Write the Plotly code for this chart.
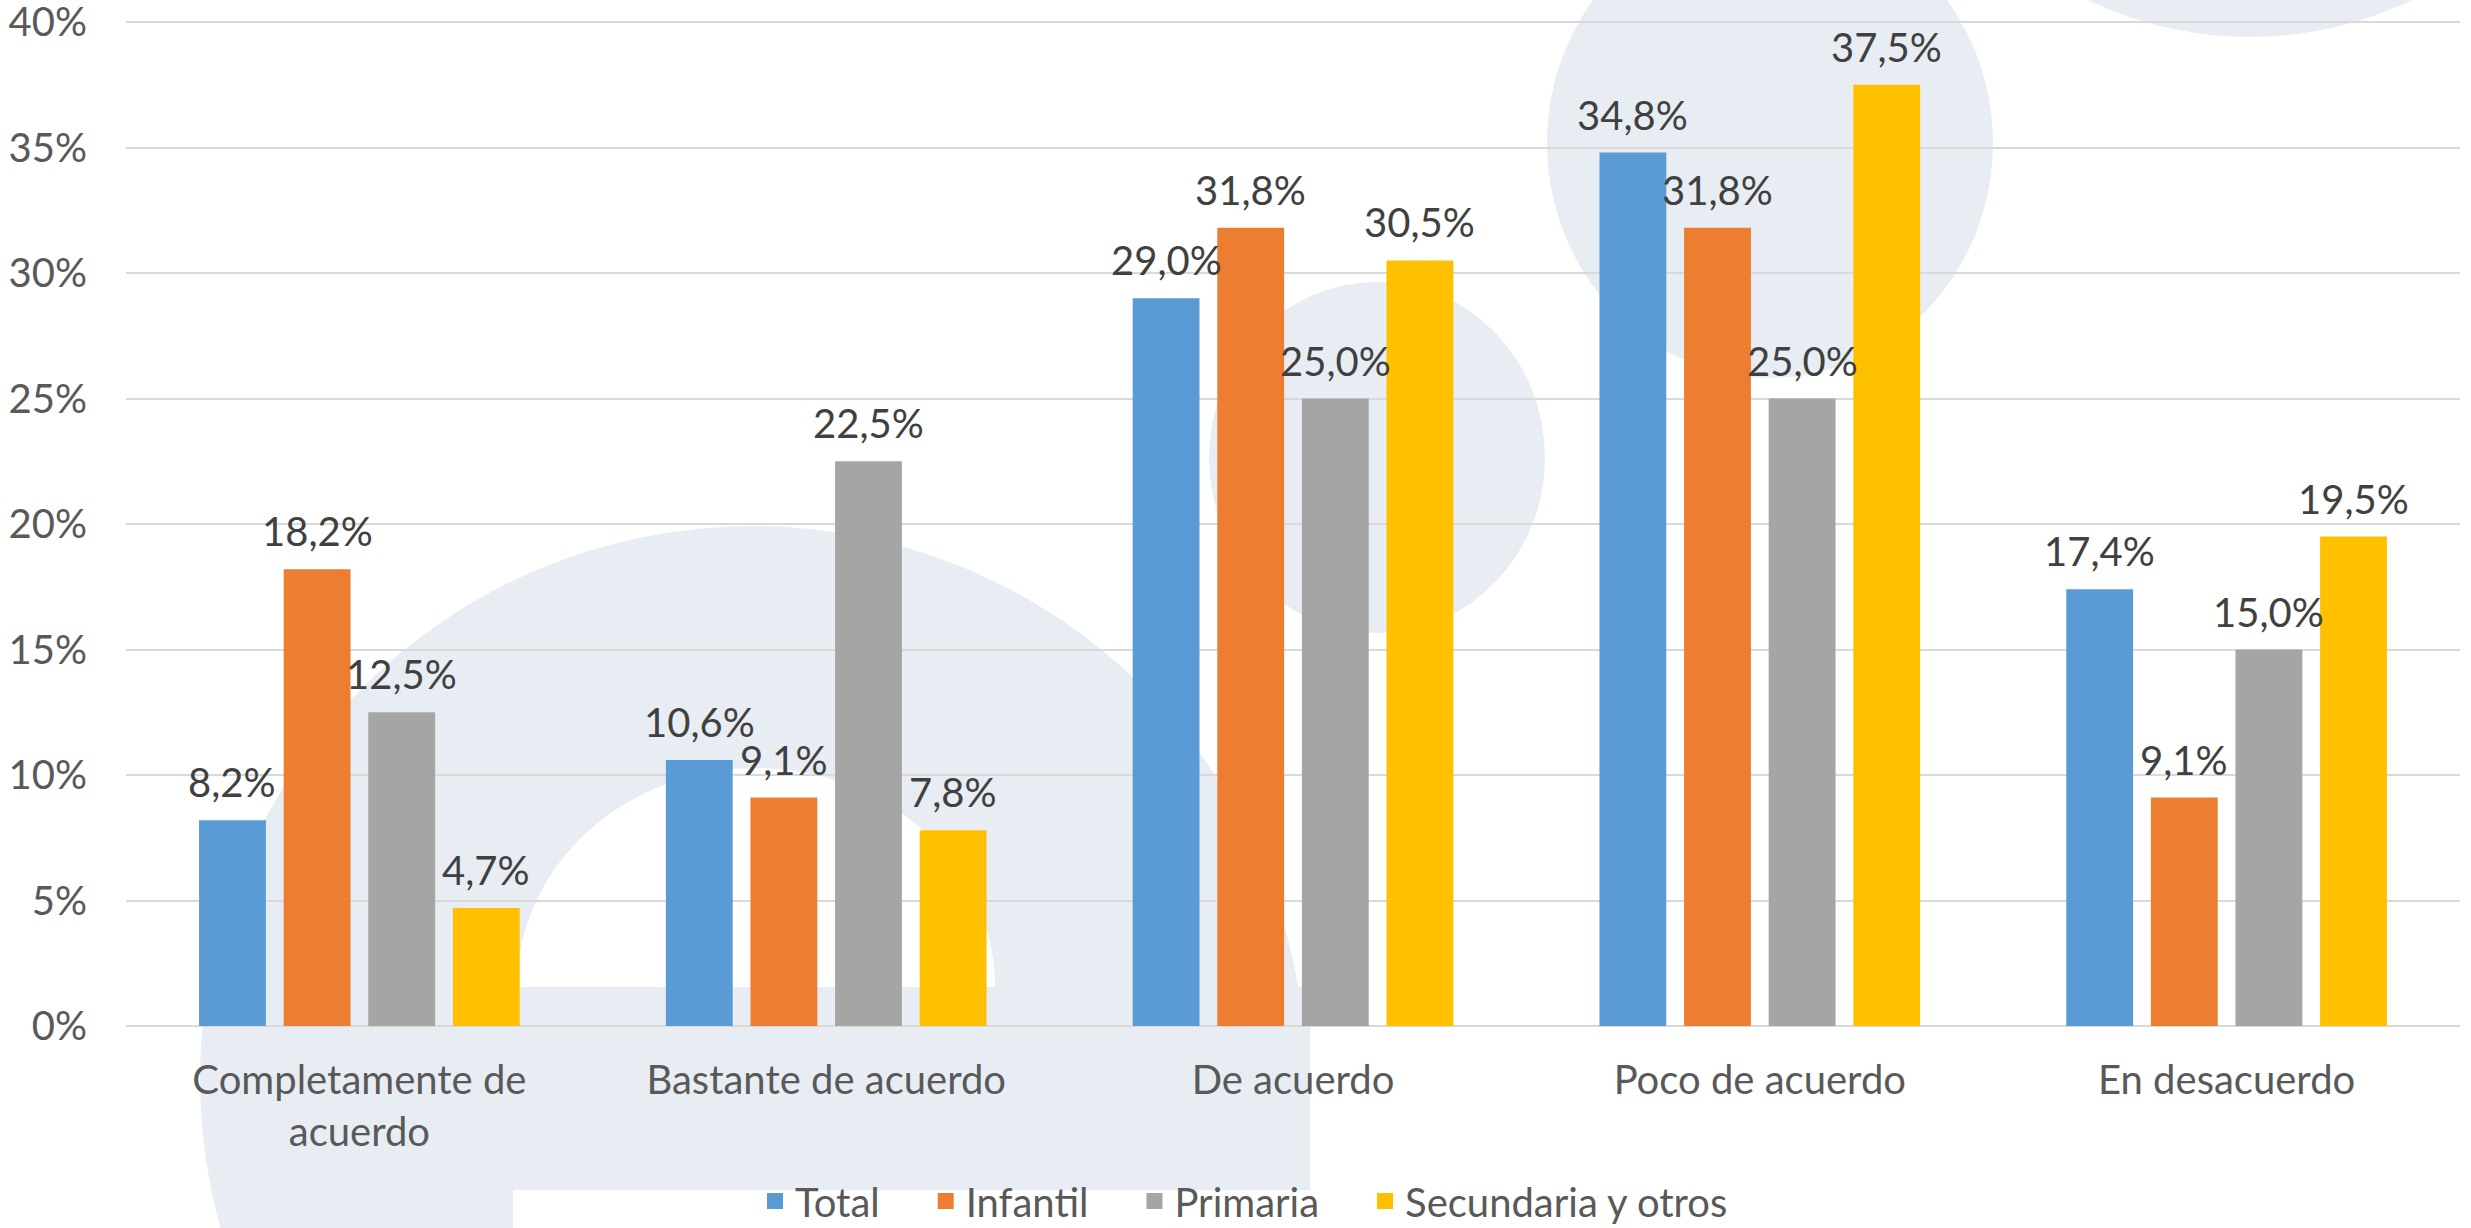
import plotly.graph_objects as go

categorias = ["Completamente de<br>acuerdo", "Bastante de acuerdo", "De acuerdo",
              "Poco de acuerdo", "En desacuerdo"]
total = [8.2, 10.6, 29.0, 34.8, 17.4]
infantil = [18.2, 9.1, 31.8, 31.8, 9.1]
primaria = [12.5, 22.5, 25.0, 25.0, 15.0]
secundaria = [4.7, 7.8, 30.5, 37.5, 19.5]
series = ["Total", "Infantil", "Primaria", "Secundaria y otros"]
colores = ["#5B9BD5", "#ED7D31", "#A5A5A5", "#FFC000"]
y_ticks = [0, 5, 10, 15, 20, 25, 30, 35, 40]

W, H = 2471, 1228
ML, MR, MT, MB = 126, 11, 12, 202
pw, ph = W - ML - MR, H - MT - MB
BARGAP, GROUPGAP = 0.275, 0.21
FUENTE = "Lato"


def px(x):
    return (x - ML) / pw


def py(y):
    return (H - MB - y) / ph


fig = go.Figure()
datos = [total, infantil, primaria, secundaria]
paso = pw / len(categorias) * (1 - BARGAP) / len(series)
anotaciones = []
for i, (nombre, vals, col) in enumerate(zip(series, datos, colores)):
    fig.add_trace(go.Bar(
        x=categorias, y=vals, name=nombre, showlegend=False,
        marker=dict(color=col, line=dict(width=0)),
    ))
    # entrada de leyenda con cuadrado mas grande
    fig.add_trace(go.Scatter(
        x=[None], y=[None], mode="markers", showlegend=True,
        name=nombre + ("\u00a0\u00a0\u00a0\u00a0" if i < len(series) - 1 else ""),
        marker=dict(symbol="square", size=16, color=col),
    ))
    for c, v in zip(categorias, vals):
        anotaciones.append(dict(
            x=c, y=v, xref="x", yref="y", showarrow=False,
            text=f"{v:.1f}%".replace(".", ","),
            xshift=(i - (len(series) - 1) / 2) * paso, yshift=12,
            yanchor="bottom", xanchor="center",
            font=dict(size=40, color="#404040", family=FUENTE),
        ))

# marca de agua de fondo
agua = "#E8EDF4"
shapes = []


def elipse(x0, y0, x1, y1, color):
    shapes.append(dict(type="circle", xref="paper", yref="paper",
                       x0=px(x0), x1=px(x1), y0=py(y1), y1=py(y0),
                       fillcolor=color, line=dict(width=0), layer="below"))


def rect(x0, y0, x1, y1, color):
    shapes.append(dict(type="rect", xref="paper", yref="paper",
                       x0=px(x0), x1=px(x1), y0=py(y1), y1=py(y0),
                       fillcolor=color, line=dict(width=0), layer="below"))


elipse(200, 526, 1306, 1632, agua)
elipse(517, 768, 995, 1206, "white")
rect(517, 987, 1310, 1190, agua)
rect(513, 1190, 1330, 1240, "white")
elipse(1209, 282, 1545, 633, agua)
elipse(1547, -92, 1993, 378, agua)
elipse(1877, -709, 2623, 37, agua)

fig.update_layout(
    width=W, height=H,
    margin=dict(l=ML, r=MR, t=MT, b=MB, autoexpand=False),
    paper_bgcolor="white", plot_bgcolor="rgba(0,0,0,0)",
    barmode="group", bargap=BARGAP, bargroupgap=GROUPGAP,
    font=dict(family=FUENTE, size=40, color="#595959"),
    shapes=shapes, annotations=anotaciones,
    legend=dict(orientation="h", xref="container", x=1244 / W, xanchor="center",
                yref="container", y=(H - 1201) / H, yanchor="middle",
                font=dict(size=40, color="#595959"),
                traceorder="normal", bgcolor="rgba(0,0,0,0)"),
)
fig.update_xaxes(showgrid=False, showline=False, ticks="", ticklabelstandoff=27,
                 automargin=False, tickfont=dict(size=40, color="#595959"))
fig.update_yaxes(range=[0, 40.4], tickvals=y_ticks, ticktext=[f"{t}%" for t in y_ticks],
                 showgrid=True, gridcolor="#D9D9D9", gridwidth=2,
                 zeroline=True, zerolinecolor="#D9D9D9", zerolinewidth=2,
                 showline=False, ticks="", ticklabelstandoff=38,
                 automargin=False, ticklabeloverflow="allow",
                 tickfont=dict(size=40, color="#595959"))

fig.write_html("out.html", config={"displayModeBar": False},
               post_script="document.body.style.margin='0px';")
